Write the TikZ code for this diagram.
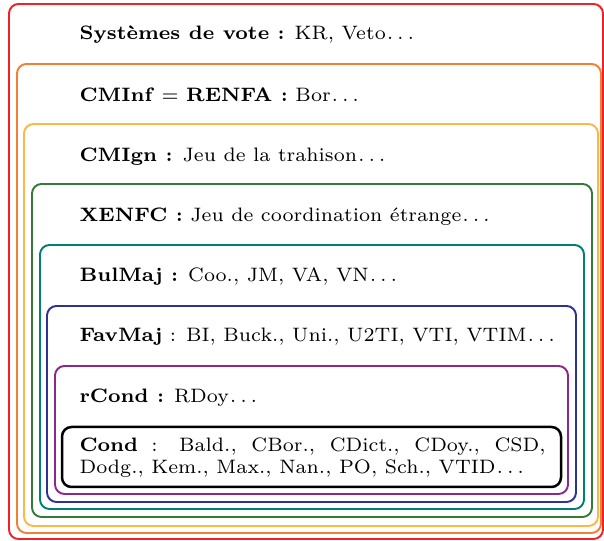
\documentclass[tikz,border=0pt]{standalone}
\usepackage{xcolor}
\definecolor{cRed}{RGB}{237,34,42}
\definecolor{cOrange}{RGB}{242,128,52}
\definecolor{cYellow}{RGB}{252,184,70}
\definecolor{cGreen}{RGB}{54,122,58}
\definecolor{cTeal}{RGB}{0,128,112}
\definecolor{cBlue}{RGB}{46,50,146}
\definecolor{cPurple}{RGB}{140,40,140}
\newcommand{\dotz}{\kern0.05em$\ldots$}
\tikzset{
  frame/.style={line width=0.7pt, rounded corners=3.4pt},
  condframe/.style={line width=0.9pt, rounded corners=3.4pt, draw=black},
  lbl/.style={anchor=base west, inner sep=0pt, font=\scriptsize},
}
\begin{document}
\begin{tikzpicture}[x=0.36pt,y=-0.36pt]
\useasboundingbox (0,0) rectangle (604,541);
\draw[frame,cRed]    (9,4)   rectangle (603,539);
\draw[frame,cOrange] (17,64) rectangle (601,533);
\draw[frame,cYellow] (24,124) rectangle (598,526);
\draw[frame,cGreen]  (32,184) rectangle (592,517);
\draw[frame,cTeal]   (40,245) rectangle (584,509);
\draw[frame,cBlue]   (47,306) rectangle (576,502);
\draw[frame,cPurple] (55,366) rectangle (568,494);
\draw[condframe]     (62,427) rectangle (561,487);
\node[lbl] (sv) at (79,40) {\textbf{Systèmes de vote :} KR, Veto\dotz};
\node[lbl] (cminf) at (79,102) {\textbf{CMInf} $=$ \textbf{RENFA :} Bor\dotz};
\node[lbl] (cmign) at (79,162) {\textbf{CMIgn :} Jeu de la trahison\dotz};
\node[lbl] (xenfc) at (79,222) {\textbf{XENFC :} Jeu de coordination étrange\dotz};
\node[lbl] (bulmaj) at (79,282) {\textbf{BulMaj :} Coo., JM, VA, VN\dotz};
\node[lbl] (favmaj) at (79,342) {\textbf{FavMaj} : BI, Buck., Uni., U2TI, VTI, VTIM\dotz};
\node[lbl] (rcond) at (79,403) {\textbf{rCond :} RDoy\dotz};
\node[anchor=north west, inner sep=0pt, font=\scriptsize, text width=167.8pt, align=justify]
  (cond) at (79,437) {\hyphenpenalty=10000 \textbf{Cond} : Bald., CBor., CDict., CDoy., CSD, Dodg., Kem., Max., Nan., PO, Sch., VTID\dotz};
\end{tikzpicture}
\end{document}
